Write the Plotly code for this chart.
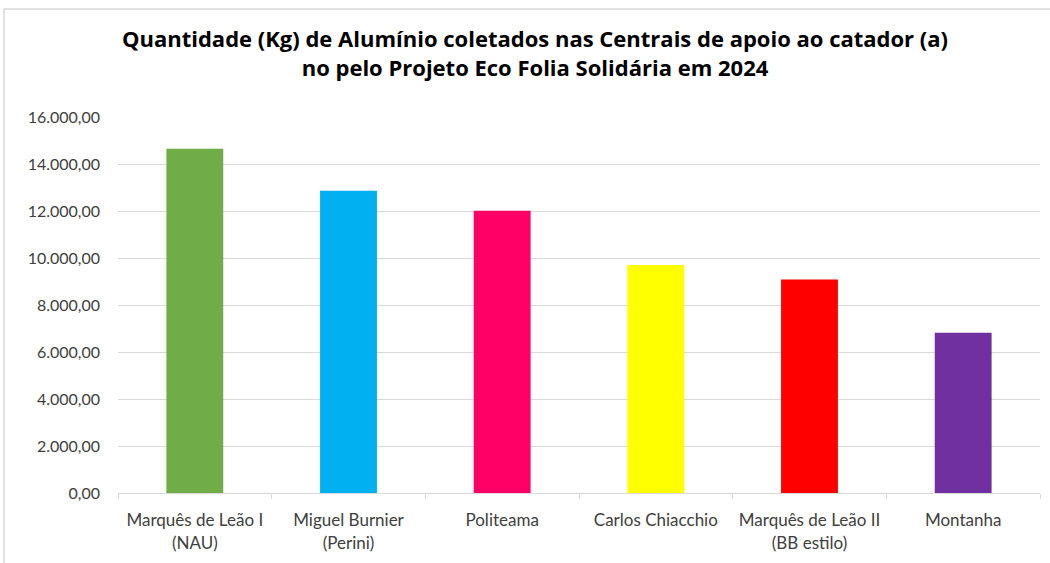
import plotly.graph_objects as go

categories = ["Marquês de Leão I<br>(NAU)", "Miguel Burnier<br>(Perini)", "Politeama",
              "Carlos Chiacchio", "Marquês de Leão II<br>(BB estilo)", "Montanha"]
values = [14650, 12860, 12010, 9705, 9080, 6820]
colors = ["#70AD47", "#00B0F0", "#FF0066", "#FFFF00", "#FF0000", "#7030A0"]
y_ticks = [0, 2000, 4000, 6000, 8000, 10000, 12000, 14000, 16000]

fig = go.Figure(go.Bar(x=categories, y=values, marker=dict(color=colors, line=dict(width=0)),
                       hoverinfo="x+y"))

W, H = 1050, 563
ml, mr, mt, mb = 118, 10, 117, 70
pw, ph = W - ml - mr, H - mt - mb

fig.update_layout(
    width=W, height=H,
    margin=dict(l=ml, r=mr, t=mt, b=mb, pad=0, autoexpand=False),
    paper_bgcolor="white", plot_bgcolor="white",
    separators=",.",
    font=dict(family="Lato, 'Open Sans', sans-serif", color="#404040", size=15),
    title=dict(text="<b>Quantidade (Kg) de Alumínio coletados nas Centrais de apoio ao catador (a)<br>no pelo Projeto Eco Folia Solidária em 2024</b>",
               x=535 / W, xanchor="center", y=1 - 47 / H, yanchor="middle",
               font=dict(size=22, family="'Open Sans', sans-serif", color="#000000")),
    bargap=0.63,
    showlegend=False,
    xaxis=dict(showline=True, linecolor="#D9D9D9", linewidth=1, ticks="outside",
               tickson="boundaries", ticklen=5, tickcolor="#D9D9D9", automargin=False,
               ticklabelstandoff=12,
               tickfont=dict(size=17, color="#404040"), showgrid=False),
    yaxis=dict(range=[0, 16000], tickvals=y_ticks, tickformat=",.2f", automargin=False,
               showgrid=True, gridcolor="#D9D9D9", gridwidth=1, zeroline=False,
               showline=False, ticks="", ticklabelstandoff=17,
               tickfont=dict(size=16, color="#404040")),
    shapes=[dict(type="rect", xref="paper", yref="paper",
                 x0=(4 - ml) / pw, x1=(W + 20 - ml) / pw,
                 y0=-(mb + 20) / ph, y1=(H - mb - 9) / ph,
                 line=dict(color="#D9D9D9", width=1.5), fillcolor="rgba(0,0,0,0)",
                 layer="below")],
)

fig.write_html("out.html", config={"displayModeBar": False},
               post_script="document.body.style.margin='0';document.body.style.overflow='hidden';")
